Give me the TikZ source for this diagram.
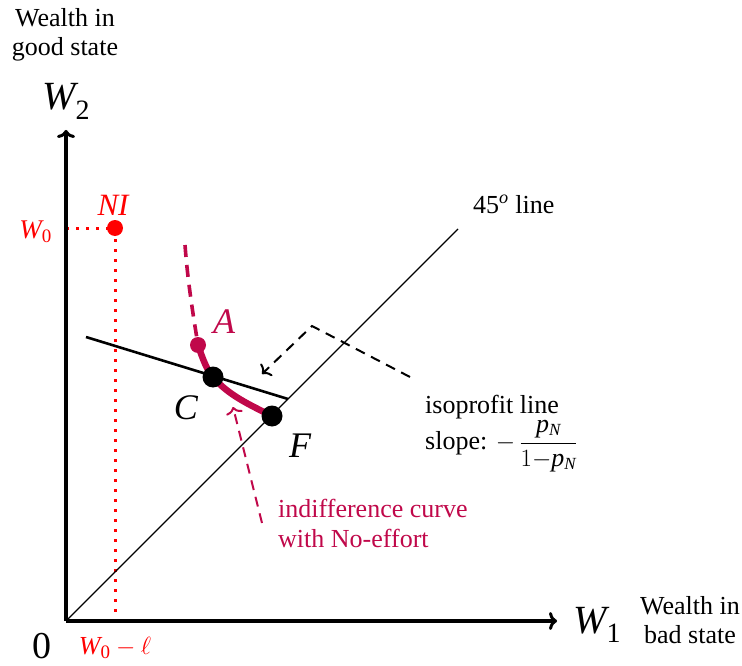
\documentclass[tikz,border=0pt]{standalone}
\usepackage{fontspec}
\setmainfont{Liberation Serif}
\usetikzlibrary{arrows.meta}
\definecolor{icol}{RGB}{192,8,74}
\newcommand{\mv}[1]{\mathit{#1}}
\newcommand{\sbx}[2]{\hbox{\fontsize{#1}{#1}\selectfont #2}}
\begin{document}
\begin{tikzpicture}[x=1pt,y=-1pt,
  txt/.style={font=\fontsize{26}{29}\selectfont,inner sep=0pt},
  big/.style={font=\fontsize{40}{44}\selectfont,inner sep=0pt},
  mid/.style={font=\fontsize{36}{38}\selectfont,inner sep=0pt},
  axis/.style={line width=3.5pt,-{To[length=8pt,width=18pt,line width=3pt]}},
  reddot/.style={circle,fill=red,inner sep=0pt,minimum size=16pt},
  pdot/.style={circle,fill=icol,inner sep=0pt,minimum size=16pt},
  bdot/.style={circle,fill=black,inner sep=0pt,minimum size=21pt},
  reddots/.style={red,line width=3pt,dash pattern=on 3pt off 7pt},
  darrow/.style={dash pattern=on 10pt off 7pt,line width=2pt,-{To[length=7pt,width=17pt,line width=2pt]}},
]
\useasboundingbox (0,0) rectangle (742,666);
% points
\coordinate (O) at (66,621);
\coordinate (Ytop) at (66,130);
\coordinate (Xend) at (557,621);
\coordinate (D45) at (458,229);
\coordinate (W0y) at (66,228);
\coordinate (W0x) at (115,621);
\coordinate (I1) at (86,337);
\coordinate (I2) at (288,399);
\coordinate (Top) at (185,245);
\coordinate (K1) at (410,377);
\coordinate (K2) at (312,326);
\coordinate (K3) at (262,374);
\coordinate (P1) at (262,523);
\coordinate (P2) at (233,407);
\coordinate (Ac) at (198,345);
\coordinate (Cc) at (213,377);
\coordinate (Fc) at (272,416);
\coordinate (NIc) at (115,228);
% red dotted guides
\draw[reddots] (W0y) -- (NIc) -- (W0x);
% axes
\draw[axis] (O) -- (Ytop);
\draw[axis] (O) -- (Xend);
% 45 degree line
\draw[line width=1.3pt] (O) -- (D45);
% isoprofit line
\draw[line width=2.6pt] (I1) -- (I2);
% indifference curve
\draw[icol,line width=3.6pt,dash pattern=on 12pt off 8pt] (Top) .. controls (188,285) and (194,320) .. (Ac);
\draw[icol,line width=6.5pt] (Ac) .. controls (203,360) and (207,370) .. (Cc) .. controls (228,395) and (250,405) .. (Fc);
% arrows
\draw[darrow] (K1) -- (K2) -- (K3);
\draw[darrow,icol] (P1) -- (P2);
% dots
\node[reddot] (NI) at (NIc) {};
\node[pdot] (A) at (Ac) {};
\node[bdot] (C) at (Cc) {};
\node[bdot] (F) at (Fc) {};
% labels
\node[txt,align=center,anchor=base] (lg) at (65,56) {Wealth in\\good state};
\node[big,anchor=base west] (w2) at (42,110) {$\mv{W}_{\sbx{28}{2}}$};
\node[big,anchor=base west] (w1) at (573,633) {$\mv{W}_{\sbx{28}{1}}$};
\node[txt,align=center,anchor=base] (lb) at (690,643) {Wealth in\\bad state};
\node[font=\fontsize{38}{40}\selectfont,inner sep=0pt,anchor=base] (zero) at (42,658) {0};
\node[font=\fontsize{27}{29}\selectfont,inner sep=0pt,red,anchor=base east] (w0) at (52,238) {$\mv{W}_{\sbx{19}{0}}$};
\node[txt,red,anchor=base] (w0l) at (115,654) {$\mv{W}_{\sbx{19}{0}}-\ell$};
\node[font=\fontsize{31}{34}\selectfont,inner sep=0pt,red,anchor=base] (nil) at (113,215) {$\mv{NI}$};
\node[mid,icol,anchor=base] (al) at (224,333) {$\mv{A}$};
\node[mid,anchor=base] (cl) at (186,419) {$\mv{C}$};
\node[mid,anchor=base] (fl) at (300,457) {$\mv{F}$};
\node[txt,anchor=base west] (l45) at (473,213) {45$^{\mv{o}}$ line};
\node[txt,align=left,anchor=base west] (iso) at (425,449) {isoprofit line\\slope: ${-}\,\displaystyle\frac{\mv{p}_{\sbx{17}{\itshape N}}}{1{-}\mv{p}_{\sbx{17}{\itshape N}}}$};
\node[txt,icol,align=left,anchor=base west] (ind) at (278,547) {indifference curve\\[1pt]with No-effort};
\end{tikzpicture}
\end{document}
